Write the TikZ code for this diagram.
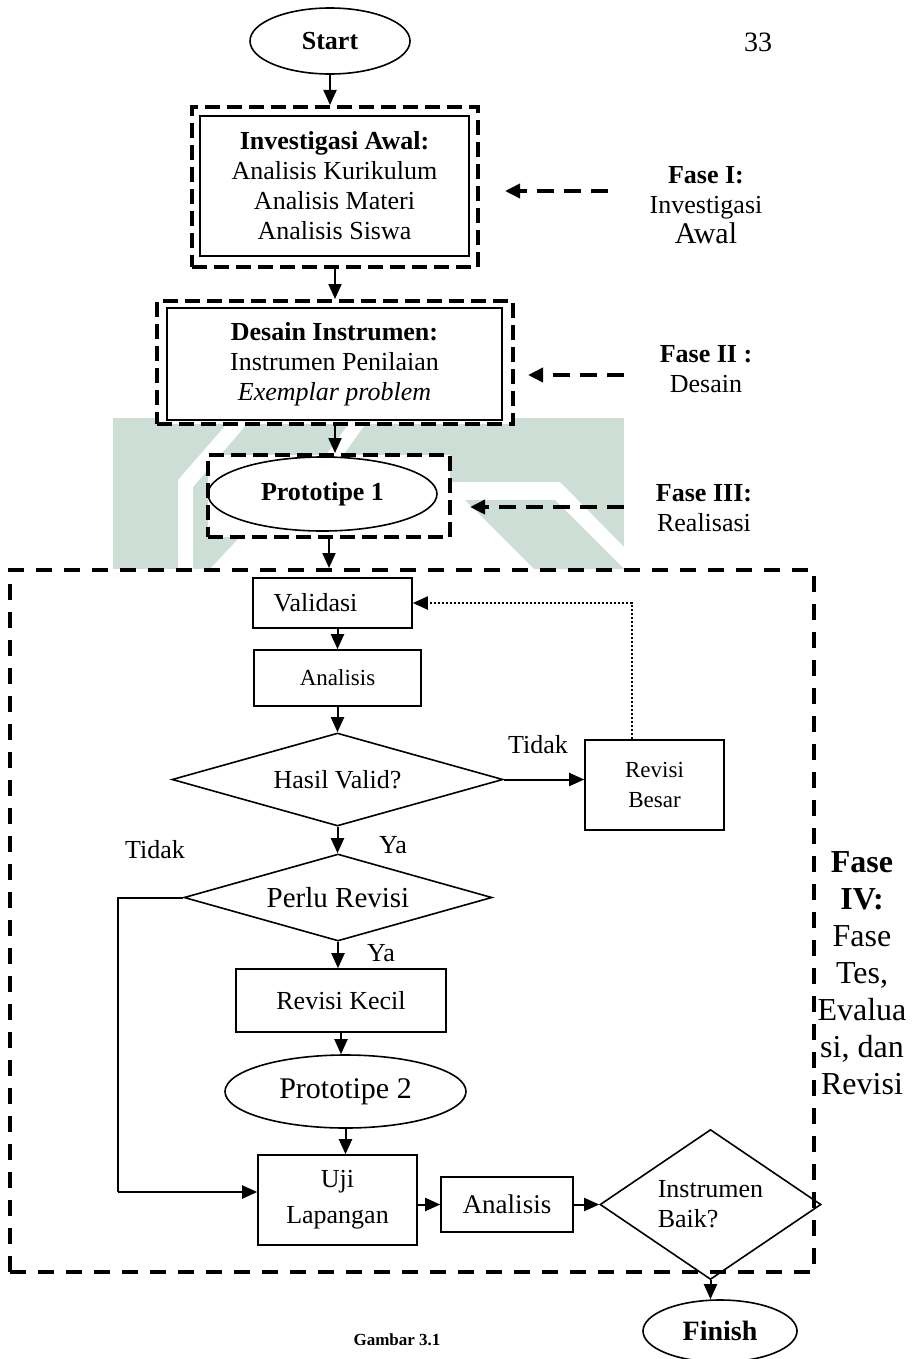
\documentclass[tikz,border=0pt]{standalone}
\usepackage{fontspec}
\setmainfont{Liberation Serif}
\usepackage{xcolor}
\definecolor{bayangLogo}{RGB}{204,222,213}
\usepackage{tikz}
\usetikzlibrary{arrows.meta, calc, shapes.geometric}
\newcommand{\hurufUtama}{\fontsize{13}{15}\selectfont}
\newcommand{\hurufKecil}{\fontsize{11.5}{15}\selectfont}
\newcommand{\hurufBesar}{\fontsize{15}{17}\selectfont}
\newcommand{\hurufFase}{\fontsize{16}{18.5}\selectfont}
\tikzset{
  %% ── Kotak ────────────────────────────────────────────────────────────
  %% Garis tipis untuk langkah, garis putus tebal untuk pembatas fase.
  kotak/.style      = {draw, line width=0.8pt, align=center, inner sep=2pt,
                       font=\hurufUtama},
  kotakLuar/.style  = {draw, line width=2pt, dash pattern=on 7.5pt off 3.5pt,
                       fill=white, inner sep=0pt},
  kotakFase/.style  = {draw, line width=2pt, dash pattern=on 8pt off 6pt,
                       inner sep=0pt},
  elips/.style      = {ellipse, draw, line width=0.8pt, inner sep=0pt,
                       font=\hurufUtama},
  ketupat/.style    = {diamond, draw, line width=0.8pt, inner sep=0pt,
                       align=center, font=\hurufUtama},
  %%
  %% ── Panah ────────────────────────────────────────────────────────────
  panah/.style      = {-{Triangle[length=7.5pt, width=6.5pt]}, line width=1pt},
  panahFase/.style  = {-{Triangle[length=7.5pt, width=7pt]}, line width=1.8pt,
                       dash pattern=on 8.5pt off 5pt},
  panahTitik/.style = {-{Triangle[length=7.5pt, width=6.5pt]}, line width=1pt,
                       dash pattern=on 1pt off 1pt},
  %%
  %% ── Teks ─────────────────────────────────────────────────────────────
  teks/.style       = {font=\hurufUtama, inner sep=0pt},
  teksFase/.style   = {font=\hurufUtama, align=center, inner sep=0pt},
}

\begin{document}
\begin{tikzpicture}[x=0.5pt, y=-0.5pt]

\useasboundingbox (0,0) rectangle (915,1359);

\fill[bayangLogo] (113,418) rectangle (624,569);
\fill[white] (232,418) -- (252,418) -- (193,487) -- (193,569) -- (178,569)
     -- (178,480) -- cycle;
\fill[white] (353,418) -- (370,418) -- (343,455) -- (326,455) -- cycle;
\fill[white] (210,569) -- (240,537) -- (450,537) -- (450,482) -- (560,482)
     -- (624,547) -- (624,569) -- cycle;
\fill[bayangLogo] (465,500) -- (555,500) -- (624,569) -- (534,569) -- cycle;

\node[kotakLuar, minimum width=143pt, minimum height=80pt] (invLuar) at (335, 187) {};
\node[kotakLuar, minimum width=178pt, minimum height=61.5pt] (desLuar) at (335, 362.5) {};
\node[kotakLuar, minimum width=121pt, minimum height=41pt] (protoLuar) at (329, 496) {};
\node[kotakFase, minimum width=402pt, minimum height=351pt] (faseEmpat) at (412, 921) {};

\node[elips, font=\hurufUtama\bfseries, minimum width=80pt, minimum height=33pt]
     (start) at (330, 41) {Start};
\node[teks, font=\fontsize{14}{16}\selectfont] (halaman) at (758, 42) {33};

\node[kotak, minimum width=134.5pt, minimum height=70pt] (investigasi) at (334.5, 186)
     {\textbf{Investigasi Awal:}\\Analisis Kurikulum\\Analisis Materi\\Analisis Siswa};
\node[kotak, minimum width=167.5pt, minimum height=56pt] (desain) at (334.5, 364)
     {\textbf{Desain Instrumen:}\\Instrumen Penilaian\\\textit{Exemplar problem}};
\node[elips, font=\hurufUtama\bfseries, minimum width=114.5pt, minimum height=37pt]
     (proto) at (322.5, 494) {Prototipe 1};

\node[kotak, minimum width=79.5pt, minimum height=25pt] (validasi) at (332.5, 603)
     {Validasi\hspace*{17pt}};
\node[kotak, font=\hurufKecil, minimum width=83.5pt, minimum height=28pt] (analisis)
     at (337.5, 678) {Analisis};
\node[ketupat, aspect=3.5, minimum width=165.5pt, minimum height=46.5pt] (hasil)
     at (337.5, 779.5) {Hasil Valid?};
\node[kotak, font=\hurufKecil, minimum width=69.5pt, minimum height=45pt] (revBesar)
     at (654.5, 785) {Revisi\\Besar};
\node[ketupat, font=\fontsize{14.5}{17}\selectfont, aspect=3.5, minimum width=154pt,
     minimum height=43.5pt] (perlu) at (338, 897.5) {Perlu Revisi};
\node[kotak, minimum width=105pt, minimum height=31.5pt] (revKecil) at (341, 1000.5)
     {Revisi Kecil};
\node[elips, font=\fontsize{15}{17}\selectfont, minimum width=120.5pt,
     minimum height=36.5pt] (protoDua) at (345.5, 1091.5) {Prototipe 2};
\node[kotak, minimum width=79.5pt, minimum height=45pt] (ujiLap) at (337.5, 1200)
     {Uji\\[3pt]Lapangan};
\node[kotak, font=\fontsize{13.5}{15}\selectfont, minimum width=66pt,
     minimum height=27.5pt] (analisisDua) at (507, 1204.5) {Analisis};
\node[ketupat, align=left, aspect=1.5, minimum width=110.5pt, minimum height=75pt]
     (baik) at (710.5, 1204.5) {Instrumen\\Baik?};
\node[elips, font=\fontsize{14}{16}\selectfont\bfseries, minimum width=77pt,
     minimum height=31pt] (finish) at (720, 1331) {Finish};

\node[teks] (tidakSatu) at (538, 745) {Tidak};
\node[teks] (yaSatu) at (393, 845) {Ya};
\node[teks] (tidakDua) at (155, 850) {Tidak};
\node[teks] (yaDua) at (381, 953) {Ya};

\node[teksFase] (faseSatu) at (706, 205)
     {\textbf{Fase I:}\\Investigasi\\{\hurufBesar Awal}};
\node[teksFase] (faseDua) at (706, 369) {\textbf{Fase II :}\\Desain};
\node[teksFase] (faseTiga) at (704, 508) {\textbf{Fase III:}\\Realisasi};
\node[teksFase, font=\hurufFase] (faseEmpatTeks) at (862, 973)
     {\textbf{Fase}\\\textbf{IV:}\\Fase\\Tes,\\Evalua\\si, dan\\Revisi};
\node[teks, font=\fontsize{8.5}{10}\selectfont\bfseries] (gambar) at (397, 1340)
     {Gambar 3.1};

\coordinate (pangkalSatu) at (608, 191);
\coordinate (ujungSatu) at (505, 191);
\coordinate (pangkalDua) at (624, 375);
\coordinate (ujungDua) at (528, 375);
\coordinate (pangkalTiga) at (624, 507);
\coordinate (ujungTiga) at (470, 507);
\coordinate (belokTitik) at (632, 603);
\coordinate (belokKiri) at (118, 1192);

\draw[panah] (start.south) -- (start.south |- invLuar.north);
\draw[panah] (invLuar.south) -- (invLuar.south |- desLuar.north);
\draw[panah] (desLuar.south) -- (desLuar.south |- protoLuar.north);
\draw[panah] (protoLuar.south) -- (protoLuar.south |- faseEmpat.north);
\draw[panah] (validasi.south -| analisis.north) -- (analisis.north);
\draw[panah] (analisis.south) -- (analisis.south |- hasil.north);
\draw[panah] (hasil.east) -- (hasil.east -| revBesar.west);
\draw[panahTitik] (revBesar.north -| belokTitik) -- (belokTitik) -- (validasi.east);
\draw[panah] (hasil.south) -- (hasil.south |- perlu.north);
\draw[line width=1pt] (perlu.west) -| (belokKiri);
\draw[panah] (belokKiri) -- (belokKiri -| ujiLap.west);
\draw[panah] (perlu.south) -- (perlu.south |- revKecil.north);
\draw[panah] (revKecil.south) -- (revKecil.south |- protoDua.north);
\draw[panah] (protoDua.south) -- (protoDua.south |- ujiLap.north);
\draw[panah] (analisisDua.west -| ujiLap.east) -- (analisisDua.west);
\draw[panah] (analisisDua.east) -- (baik.west);
\draw[panah] (baik.south) -- (baik.south |- finish.north);

\draw[panahFase] (pangkalSatu) -- (ujungSatu);
\draw[panahFase] (pangkalDua) -- (ujungDua);
\draw[panahFase] (pangkalTiga) -- (ujungTiga);

\end{tikzpicture}
\end{document}
